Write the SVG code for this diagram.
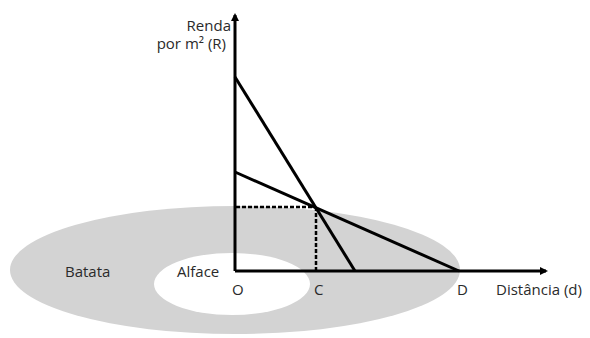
<svg xmlns="http://www.w3.org/2000/svg" width="590" height="338" viewBox="0 0 590 338">
<style>
.t{font-family:"Open Sans","Noto Sans",sans-serif;font-size:15px;fill:#2a2a2a}
.ln{stroke:#000;stroke-width:3;fill:none}
.ds{stroke:#000;stroke-width:2.5;fill:none;stroke-dasharray:4 2}
</style>
<defs>
<marker id="ah" markerWidth="8" markerHeight="8" refX="6" refY="4" orient="auto" markerUnits="userSpaceOnUse">
<path d="M0,0 L8,4 L0,8 Z" fill="#000"/>
</marker>
</defs>
<g id="zones">
<ellipse cx="235" cy="270" rx="225" ry="64" fill="#d3d3d3"/>
<ellipse cx="232" cy="284" rx="78" ry="31" fill="#fff"/>
</g>
<g id="labels">
<text class="t" x="65" y="277">Batata</text>
<text class="t" x="177" y="277">Alface</text>
<text class="t" x="232" y="295">O</text>
<text class="t" x="314" y="295">C</text>
<text class="t" x="457" y="295">D</text>
<text class="t" x="496" y="295">Distância (d)</text>
<text class="t" x="231" y="31" text-anchor="end">Renda</text>
<text class="t" x="226" y="49" text-anchor="end">por m² (R)</text>
</g>
<g id="connectors">
<line class="ln" x1="235" y1="271" x2="235" y2="15" marker-end="url(#ah)"/>
<line class="ln" x1="235" y1="271" x2="546" y2="271" marker-end="url(#ah)"/>
<line class="ln" x1="235" y1="77" x2="355" y2="271"/>
<line class="ln" x1="235" y1="172" x2="459" y2="271"/>
<line class="ds" x1="236" y1="207" x2="316" y2="207"/>
<line class="ds" x1="316" y1="207" x2="316" y2="270"/>
</g>
</svg>
